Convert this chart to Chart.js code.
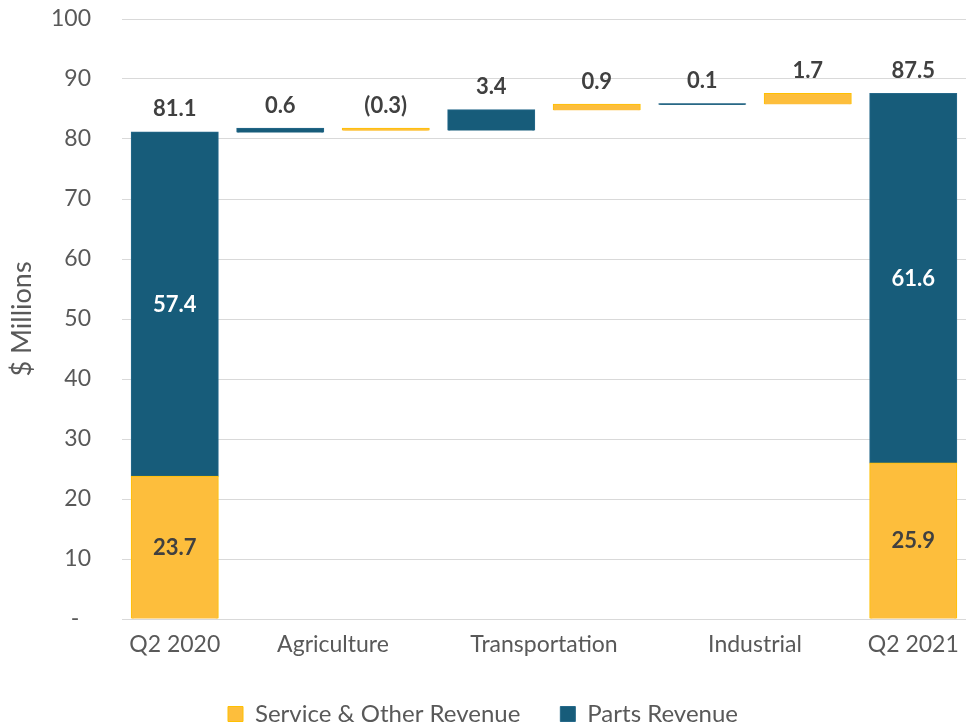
<!DOCTYPE html>
<html>
<head>
<meta charset="utf-8">
<script src="https://cdn.jsdelivr.net/npm/chart.js@4"></script>
<style>
  html, body { margin: 0; padding: 0; background: #fff; }
  #wrap { position: relative; width: 966px; height: 726px; }
</style>
</head>
<body>
<div id="wrap"><canvas id="chart"></canvas></div>
<script>
// Quarter totals, split by revenue type ($ millions)
const periods = ['Q2 2020', 'Q2 2021'];
const serviceRevenue = [23.7, 25.9];
const partsRevenue = [57.4, 61.6];

// Change between the two quarters, per segment
const segments = ['Agriculture', 'Transportation', 'Industrial'];
const partsChange = [0.6, 3.4, 0.1];
const serviceChange = [-0.3, 0.9, 1.7];

const yTicks = [0, 10, 20, 30, 40, 50, 60, 70, 80, 90, 100];

const SERVICE_COLOR = '#FDBE3C';
const PARTS_COLOR = '#175C7A';
const TEXT_COLOR = '#595959';
const LABEL_COLOR = '#404040';
const FONT = 'Lato, "Open Sans", sans-serif';

const round1 = (v) => Math.round(v * 10) / 10;

// Build the waterfall: one slot per quarter, two slots (parts, service) per segment
const slotLabels = [];
const serviceData = [];
const partsData = [];
const topLabels = [];

slotLabels.push(periods[0]);
serviceData.push([0, serviceRevenue[0]]);
partsData.push([serviceRevenue[0], round1(serviceRevenue[0] + partsRevenue[0])]);
topLabels.push(round1(serviceRevenue[0] + partsRevenue[0]));

let running = round1(serviceRevenue[0] + partsRevenue[0]);
segments.forEach((seg, i) => {
  slotLabels.push(seg);
  partsData.push([running, round1(running + partsChange[i])]);
  serviceData.push(null);
  topLabels.push(partsChange[i]);
  running = round1(running + partsChange[i]);

  slotLabels.push(seg);
  serviceData.push([running, round1(running + serviceChange[i])]);
  partsData.push(null);
  topLabels.push(serviceChange[i]);
  running = round1(running + serviceChange[i]);
});

slotLabels.push(periods[1]);
serviceData.push([0, serviceRevenue[1]]);
partsData.push([serviceRevenue[1], round1(serviceRevenue[1] + partsRevenue[1])]);
topLabels.push(round1(serviceRevenue[1] + partsRevenue[1]));

const fmt = (v) => v < 0 ? `(${Math.abs(v).toFixed(1)})` : v.toFixed(1);

// Category names sit centred under their group of slots
const groupLabels = [
  { text: periods[0], from: 0, to: 0 },
  { text: segments[0], from: 1, to: 2 },
  { text: segments[1], from: 3, to: 4 },
  { text: segments[2], from: 5, to: 6 },
  { text: periods[1], from: 7, to: 7 }
];

const groupLabelPlugin = {
  id: 'groupLabels',
  afterDraw(chart) {
    const { ctx, scales: { x }, chartArea } = chart;
    ctx.save();
    ctx.font = `23px ${FONT}`;
    ctx.fillStyle = TEXT_COLOR;
    ctx.textAlign = 'center';
    ctx.textBaseline = 'middle';
    groupLabels.forEach(g => {
      const cx = (x.getPixelForValue(g.from) + x.getPixelForValue(g.to)) / 2;
      ctx.fillText(g.text, cx, chartArea.bottom + 26);
    });
    ctx.restore();
  }
};

const valueLabelPlugin = {
  id: 'valueLabels',
  afterDatasetsDraw(chart) {
    const { ctx } = chart;
    const serviceMeta = chart.getDatasetMeta(0);
    const partsMeta = chart.getDatasetMeta(1);
    ctx.save();
    ctx.font = `bold 22px ${FONT}`;
    ctx.textAlign = 'center';
    ctx.textBaseline = 'middle';

    // values inside the two quarter columns
    [0, slotLabels.length - 1].forEach((idx, q) => {
      const s = serviceMeta.data[idx];
      const p = partsMeta.data[idx];
      ctx.fillStyle = LABEL_COLOR;
      ctx.fillText(fmt(serviceRevenue[q]), s.x, (s.y + s.base) / 2);
      ctx.fillStyle = '#FFFFFF';
      ctx.fillText(fmt(partsRevenue[q]), p.x, (p.y + p.base) / 2);
    });

    // totals and changes above each column
    ctx.fillStyle = LABEL_COLOR;
    topLabels.forEach((v, idx) => {
      const els = [serviceMeta.data[idx], partsMeta.data[idx]]
        .filter((el, k) => el && [serviceData, partsData][k][idx]);
      const top = Math.min(...els.map(el => Math.min(el.y, el.base)));
      ctx.fillText(fmt(v), els[0].x, top - 23);
    });
    ctx.restore();
  }
};

// Legend needs wide gaps between items but a compact box
const legendSizePlugin = {
  id: 'legendSize',
  beforeLayout(chart) {
    const legend = chart.legend;
    if (!legend || legend._patched) return;
    const fit = legend.fit;
    legend.fit = function () {
      fit.call(this);
      this.height = 64;
    };
    legend._patched = true;
  }
};

new Chart(document.getElementById('chart'), {
  type: 'bar',
  data: {
    labels: slotLabels,
    datasets: [
      {
        label: 'Service & Other Revenue',
        data: serviceData,
        backgroundColor: SERVICE_COLOR,
        borderColor: '#FFC000',
        borderWidth: 1,
        inflateAmount: 1,
        grouped: false,
        barPercentage: 0.815,
        categoryPercentage: 1
      },
      {
        label: 'Parts Revenue',
        data: partsData,
        backgroundColor: PARTS_COLOR,
        borderColor: '#26698A',
        borderWidth: 1,
        inflateAmount: 1,
        grouped: false,
        barPercentage: 0.815,
        categoryPercentage: 1
      }
    ]
  },
  options: {
    responsive: true,
    maintainAspectRatio: false,
    animation: false,
    layout: { padding: { top: 19, right: 0, bottom: 0, left: 0 } },
    scales: {
      x: {
        grid: { display: false, drawTicks: false },
        border: { display: true, color: '#D9D9D9', width: 1 },
        ticks: { callback: () => '' },
        afterFit: (scale) => { scale.height = 43; }
      },
      y: {
        min: 0,
        max: 100,
        afterBuildTicks: (scale) => { scale.ticks = yTicks.map(v => ({ value: v })); },
        // invisible tick marks give the gap between labels and plot
        grid: { color: '#D9D9D9', lineWidth: 1, drawTicks: true, tickLength: 31, tickColor: 'rgba(0,0,0,0)' },
        border: { display: false },
        ticks: {
          padding: 0,
          color: TEXT_COLOR,
          font: { family: FONT, size: 23 },
          callback: (v) => v === 0 ? '-  ' : v
        },
        title: {
          display: true,
          text: '$ Millions',
          color: TEXT_COLOR,
          font: { family: FONT, size: 27 },
          padding: { top: 6, bottom: 0 }
        },
        afterFit: (scale) => { scale.width = 122; }
      }
    },
    plugins: {
      legend: {
        position: 'bottom',
        labels: {
          boxWidth: 15,
          boxHeight: 15,
          padding: 40,
          color: TEXT_COLOR,
          font: { family: FONT, size: 24 }
        }
      },
      tooltip: { enabled: false }
    }
  },
  plugins: [groupLabelPlugin, valueLabelPlugin, legendSizePlugin]
});
</script>
</body>
</html>
